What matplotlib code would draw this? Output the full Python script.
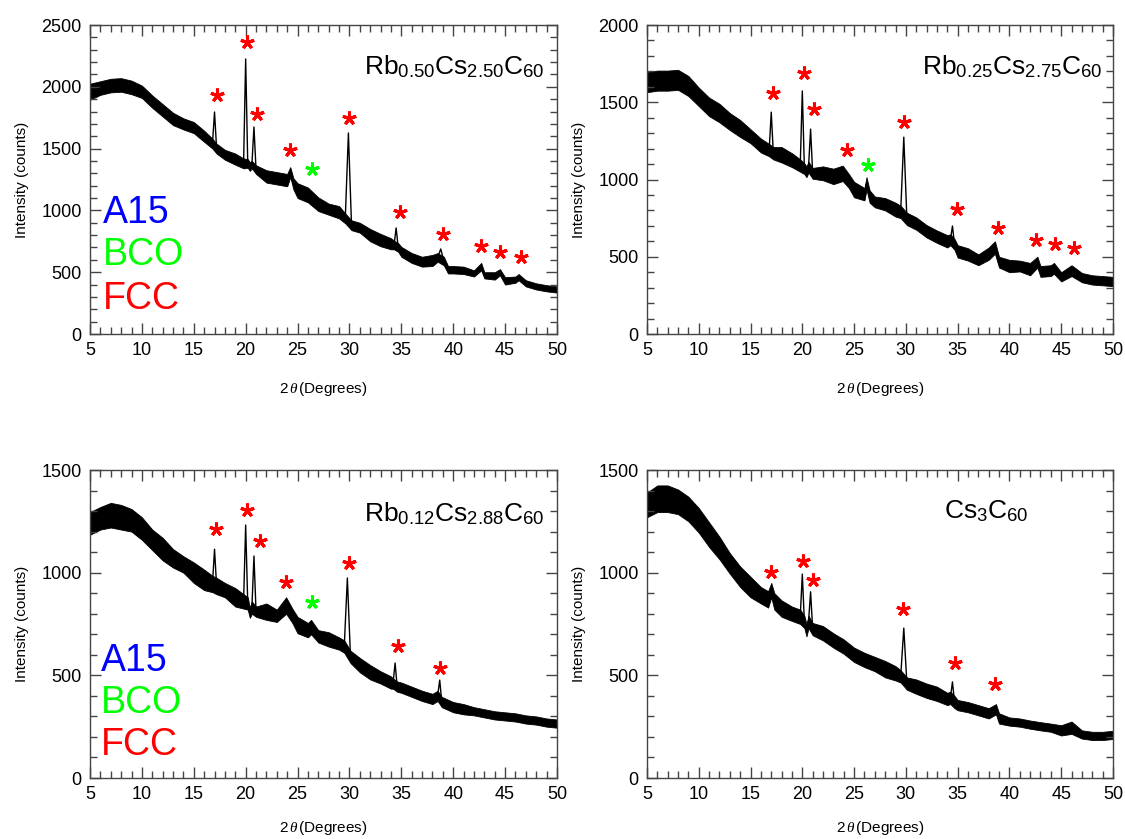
import numpy as np
import matplotlib
matplotlib.use('Agg')
import matplotlib.pyplot as plt
from matplotlib.ticker import MultipleLocator

plt.rcParams['font.family'] = ['Liberation Sans', 'DejaVu Sans']
plt.rcParams['mathtext.fontset'] = 'custom'
plt.rcParams['mathtext.rm'] = 'Liberation Sans'
plt.rcParams['mathtext.it'] = 'Liberation Serif:italic'

# --- Rb0.50Cs2.50C60 ---
tt_050 = [5, 6, 7, 8, 9, 10, 11, 12, 13, 14, 15, 16, 16.8, 17.0, 17.2, 18, 19,
          19.8, 20.0, 20.2, 20.4, 20.6, 20.8, 21.0, 22, 23, 24.0, 24.3, 24.6,
          25, 26, 27, 28, 29, 29.6, 29.9, 30.2, 31, 32, 33, 34, 34.3, 34.5, 34.7,
          35, 36, 37, 38, 38.5, 38.8, 39.1, 39.5, 40, 41, 42, 42.7, 43, 44, 44.5,
          45, 46, 46.3, 47, 48, 49, 50]
cnt_050 = [1960, 1990, 2010, 2015, 1995, 1960, 1880, 1810, 1740, 1700, 1670, 1600,
           1540, 1796, 1500, 1450, 1415, 1380, 2225, 1380, 1355, 1370, 1675, 1330,
           1275, 1260, 1245, 1310, 1215, 1160, 1125, 1050, 1010, 985, 935, 1626,
           880, 860, 800, 760, 730, 720, 858, 700, 665, 615, 585, 595, 620, 688,
           590, 520, 520, 515, 490, 545, 475, 470, 500, 430, 440, 460, 410, 385,
           370, 360]
noise_050 = [65, 55, 55, 55, 55, 50, 50, 50, 50, 45, 45, 45, 40, 0, 40, 40, 45,
             40, 0, 35, 35, 30, 0, 35, 50, 50, 50, 40, 45, 60, 60, 55, 45, 50, 40,
             0, 40, 40, 50, 50, 45, 35, 0, 35, 40, 40, 40, 45, 35, 0, 35, 30, 30,
             30, 25, 30, 25, 30, 25, 30, 25, 25, 25, 25, 25, 25]
fcc_x_050 = [17.2, 20.1, 21.1, 24.3, 29.95, 34.9, 39.0, 42.7, 44.5, 46.5]
fcc_y_050 = [1933, 2365, 1780, 1489, 1745, 985, 809, 712, 666, 626]
bco_x_050 = [26.4]
bco_y_050 = [1335]

# --- Rb0.25Cs2.75C60 ---
tt_025 = [5, 6, 7, 8, 9, 10, 11, 12, 13, 14, 15, 16, 16.8, 17.0, 17.2, 18, 19,
          19.8, 20.0, 20.2, 20.4, 20.6, 20.8, 21.0, 22, 23, 23.9, 24.5, 25, 26,
          26.2, 26.5, 27, 28, 29, 29.5, 29.8, 30.1, 31, 32, 33, 34, 34.3, 34.5,
          34.7, 35, 36, 37, 38, 38.6, 39, 40, 41, 42, 42.7, 43, 44, 44.3, 45, 46,
          47, 48, 49, 50]
cnt_025 = [1630, 1640, 1640, 1645, 1605, 1535, 1470, 1430, 1375, 1330, 1280, 1220,
           1190, 1436, 1170, 1160, 1125, 1090, 1573, 1070, 1050, 1080, 1326, 1040,
           1040, 1020, 1040, 990, 935, 905, 975, 890, 855, 840, 805, 790, 1274,
           745, 715, 665, 630, 600, 610, 699, 580, 535, 515, 480, 520, 560, 465,
           440, 440, 420, 465, 405, 410, 425, 370, 410, 365, 350, 345, 340]
noise_025 = [65, 65, 65, 65, 65, 60, 60, 60, 55, 55, 45, 45, 40, 0, 40, 50, 45,
             40, 0, 35, 35, 35, 0, 35, 45, 50, 50, 45, 50, 40, 40, 40, 35, 40, 45,
             40, 0, 40, 40, 40, 40, 40, 35, 0, 35, 40, 40, 35, 40, 40, 35, 40, 35,
             40, 35, 35, 35, 35, 30, 35, 30, 30, 30, 30]
fcc_x_025 = [17.2, 20.15, 21.15, 24.3, 29.8, 34.95, 38.9, 42.6, 44.4, 46.2]
fcc_y_025 = [1561, 1691, 1454, 1190, 1372, 807, 688, 608, 582, 554]
bco_x_025 = [26.3]
bco_y_025 = [1096]

# --- Rb0.12Cs2.88C60 ---
tt_012 = [5, 6, 7, 8, 9, 10, 11, 12, 13, 14, 15, 16, 16.8, 17.0, 17.2, 18, 19,
          19.8, 20.0, 20.2, 20.4, 20.6, 20.8, 21.0, 22, 23, 23.9, 24.5, 25, 26,
          26.3, 27, 28, 29, 29.5, 29.8, 30.1, 31, 32, 33, 34, 34.2, 34.4, 34.6,
          35, 36, 37, 38, 38.5, 38.7, 38.9, 40, 41, 42, 43, 44, 45, 46, 47, 48,
          49, 50]
cnt_012 = [1240, 1265, 1280, 1270, 1255, 1215, 1160, 1115, 1070, 1040, 1000, 965,
           945, 1114, 935, 915, 880, 860, 1232, 850, 805, 830, 1081, 810, 810, 790,
           840, 790, 745, 720, 735, 690, 675, 655, 640, 974, 590, 550, 515, 490,
           465, 460, 560, 445, 440, 420, 400, 385, 400, 477, 370, 345, 335, 325,
           315, 305, 300, 295, 285, 280, 270, 265]
noise_012 = [55, 55, 60, 60, 55, 55, 50, 55, 45, 40, 50, 50, 40, 0, 40, 35, 45,
             35, 0, 30, 25, 30, 0, 25, 40, 30, 40, 35, 40, 35, 35, 30, 35, 30, 30,
             0, 30, 35, 35, 30, 30, 25, 0, 25, 25, 25, 25, 25, 25, 0, 25, 25, 25,
             20, 20, 20, 20, 20, 20, 20, 20, 20]
fcc_x_012 = [17.1, 20.1, 21.35, 23.85, 29.95, 34.7, 38.7]
fcc_y_012 = [1211, 1305, 1156, 953, 1046, 643, 536]
bco_x_012 = [26.4]
bco_y_012 = [856]

# --- Cs3C60 ---
tt_000 = [5, 6, 7, 8, 9, 10, 11, 12, 13, 14, 15, 16, 16.7, 17.0, 17.3, 18, 19,
          19.8, 20.0, 20.2, 20.4, 20.6, 20.8, 21.0, 22, 23, 24, 25, 26, 27, 28,
          29, 29.5, 29.8, 30.1, 31, 32, 33, 34, 34.3, 34.5, 34.7, 35, 36, 37, 38,
          38.7, 39, 40, 41, 42, 43, 44, 45, 46, 47, 48, 49, 50]
cnt_000 = [1330, 1360, 1360, 1345, 1310, 1255, 1185, 1120, 1045, 980, 930, 890,
           870, 915, 860, 825, 800, 785, 993, 760, 720, 760, 907, 725, 705, 670,
           640, 600, 575, 555, 530, 510, 495, 730, 460, 445, 425, 410, 385, 390,
           468, 370, 355, 345, 330, 315, 335, 290, 275, 270, 260, 252, 245, 232,
           245, 212, 205, 205, 210]
noise_000 = [60, 65, 65, 60, 60, 60, 60, 55, 50, 50, 50, 40, 40, 35, 40, 40, 35,
             35, 0, 30, 30, 30, 0, 30, 35, 35, 35, 35, 35, 35, 40, 35, 30, 0, 30,
             35, 35, 35, 30, 30, 0, 30, 25, 25, 25, 25, 25, 25, 20, 20, 20, 20, 20,
             25, 30, 20, 20, 20, 20]
fcc_x_000 = [16.95, 20.1, 21.0, 29.7, 34.7, 38.6]
fcc_y_000 = [1005, 1057, 964, 821, 560, 459]

phase_names = ['A15', 'BCO', 'FCC']
phase_colors = ['#0000ff', '#00ff00', '#ff0000']

fig = plt.figure(figsize=(11.25, 8.39), dpi=100)

panels = [
    dict(rect=[0.0800, 0.6019, 0.4151, 0.3683], tt=tt_050, cnt=cnt_050, noise=noise_050,
         ymax=2500, fcc=(fcc_x_050, fcc_y_050), bco=(bco_x_050, bco_y_050),
         title=r'Rb$_{0.50}$Cs$_{2.50}$C$_{60}$', tpos=(48.8, 2103), tha='right',
         phases=(6.25, [898, 558, 202]), xpad=15),
    dict(rect=[0.5751, 0.6019, 0.4142, 0.3683], tt=tt_025, cnt=cnt_025, noise=noise_025,
         ymax=2000, fcc=(fcc_x_025, fcc_y_025), bco=(bco_x_025, bco_y_025),
         title=r'Rb$_{0.25}$Cs$_{2.75}$C$_{60}$', tpos=(49.0, 1682), tha='right',
         phases=None, xpad=15),
    dict(rect=[0.0800, 0.0727, 0.4151, 0.3671], tt=tt_012, cnt=cnt_012, noise=noise_012,
         ymax=1500, fcc=(fcc_x_012, fcc_y_012), bco=(bco_x_012, bco_y_012),
         title=r'Rb$_{0.12}$Cs$_{2.88}$C$_{60}$', tpos=(48.8, 1250), tha='right',
         phases=(6.06, [521, 318, 112]), xpad=11),
    dict(rect=[0.5751, 0.0727, 0.4142, 0.3671], tt=tt_000, cnt=cnt_000, noise=noise_000,
         ymax=1500, fcc=(fcc_x_000, fcc_y_000), bco=None,
         title=r'Cs$_{3}$C$_{60}$', tpos=(37.8, 1266), tha='center',
         phases=None, xpad=11),
]

for p in panels:
    ax = fig.add_axes(p['rect'])
    tt = np.array(p['tt'])
    cnt = np.array(p['cnt'])
    nz = np.array(p['noise'])
    # noisy background as a band; sharp reflections (noise 0) drawn as the line only
    bg = nz > 0
    ax.fill_between(tt[bg], cnt[bg] - nz[bg], cnt[bg] + nz[bg], color='black', lw=0.6,
                    edgecolor='black')
    ax.plot(tt, cnt, color='black', lw=1.0)

    ax.plot(*p['fcc'], ls='none', marker=(5, 2, 0), ms=10, mew=2.2, color='#ff0000')
    if p['bco'] is not None:
        ax.plot(*p['bco'], ls='none', marker=(5, 2, 0), ms=10, mew=2.2, color='#00ff00')

    ax.text(p['tpos'][0], p['tpos'][1], p['title'], fontsize=19,
            ha=p['tha'], va='baseline')

    if p['phases'] is not None:
        px, pys = p['phases']
        for name, col, py in zip(phase_names, phase_colors, pys):
            ax.text(px, py, name, color=col, fontsize=27, ha='left', va='baseline')

    ax.set_xlim(5, 50)
    ax.set_ylim(0, p['ymax'])
    ax.xaxis.set_major_locator(MultipleLocator(5))
    ax.xaxis.set_minor_locator(MultipleLocator(1))
    ax.yaxis.set_major_locator(MultipleLocator(500))
    ax.yaxis.set_minor_locator(MultipleLocator(100))
    ax.tick_params(which='both', direction='in', top=True, right=True,
                   color='#444444', width=1.0, labelsize=13, pad=6)
    ax.tick_params(which='major', length=8)
    ax.tick_params(which='minor', length=5)
    for sp in ax.spines.values():
        sp.set_color('#444444')
        sp.set_linewidth(1.0)
    ax.set_xlabel(r'2$\,\theta\,$(Degrees)', fontsize=11, labelpad=p['xpad'])
    ax.set_ylabel('Intensity (counts)', fontsize=11, labelpad=9)

fig.savefig('out.png', dpi=100)
